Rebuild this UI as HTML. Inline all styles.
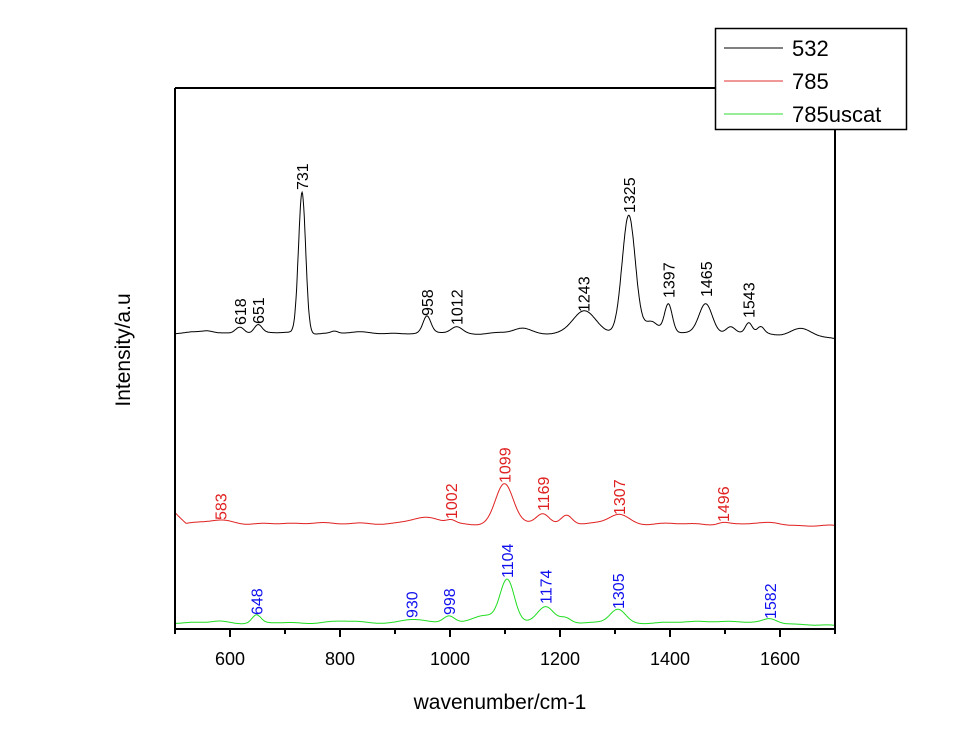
<!DOCTYPE html>
<html><head><meta charset="utf-8"><style>
html,body{margin:0;padding:0;background:#fff;}
svg{display:block;font-family:"Liberation Sans",Arial,sans-serif;}
</style></head><body>
<svg id="s" width="970" height="755" viewBox="0 0 970 755" xmlns="http://www.w3.org/2000/svg">
<rect width="970" height="755" fill="#fff"/>
<path id="pk" fill="none" stroke="#000" stroke-width="1"/>
<path id="pr" fill="none" stroke="#e02020" stroke-width="1"/>
<path id="pg" fill="none" stroke="#20dd20" stroke-width="1"/>
<g fill="none" stroke="#000" stroke-width="2">
<line x1="175" y1="88" x2="716" y2="88"/>
<line x1="175" y1="88" x2="175" y2="629"/>
<line x1="835" y1="129" x2="835" y2="629"/>
<line x1="174" y1="629" x2="836" y2="629"/>
</g>
<g id="ticks" stroke="#000" stroke-width="2"></g>
<g font-size="18" text-anchor="middle" fill="#000">
<text x="230" y="665">600</text><text x="340" y="665">800</text><text x="450" y="665">1000</text>
<text x="560" y="665">1200</text><text x="670" y="665">1400</text><text x="780" y="665">1600</text>
</g>
<text x="500" y="709" font-size="21" text-anchor="middle">wavenumber/cm-1</text>
<text transform="translate(130,350) rotate(-90)" font-size="21" text-anchor="middle">Intensity/a.u</text>
<g id="labels" font-size="16"></g>
<rect x="715.5" y="28.5" width="191" height="101" fill="#fff" stroke="#000" stroke-width="1.5"/>
<line x1="724" y1="48" x2="783" y2="48" stroke="#000"/>
<line x1="724" y1="81" x2="783" y2="81" stroke="#e03030"/>
<line x1="724" y1="114" x2="783" y2="114" stroke="#30dd30"/>
<g font-size="22" fill="#000">
<text x="792" y="56">532</text><text x="792" y="89">785</text><text x="792" y="122">785uscat</text>
</g>
</svg>
<script>
function X(w){return 175+(w-500)*0.55;}
function curve(base,peaks,ws,we){
  var d="";
  for(var w=ws;w<=we;w+=1){
    var y=base(w);
    for(var i=0;i<peaks.length;i++){var p=peaks[i];var t=(w-p[0])/p[2];y-=p[1]*Math.exp(-0.5*t*t);}
    d+=(w==ws?"M":"L")+X(w).toFixed(1)+","+y.toFixed(1);
  }
  return d;
}
var wig=function(w,a){return a*Math.sin(w/23)+a*0.6*Math.sin(w/9.7);};
document.getElementById("pk").setAttribute("d",curve(function(w){return 333+(w>1550?(w-1550)*0.045:0)+wig(w,0.8);},
 [[560,2,10],[618,7,8],[651,8,7],[731,141,6.5],[790,2,6],[958,16,7],[1012,6,10],[1130,4,15],[1243,22,20],[1325,118,12],[1365,12,12],[1397,28,7],[1465,30,12],[1510,6,8],[1543,10,6],[1565,6,6],[1640,9,20]],500,1700));
document.getElementById("pr").setAttribute("d",curve(function(w){return 524+(w<520?-(520-w)*0.6:0)+(w>1550?(w-1550)*0.015:0)+wig(w,0.7);},
 [[583,4,25],[760,2,20],[950,6,30],[1002,3,8],[1099,40,16],[1169,11,12],[1212,9,10],[1307,10,18],[1496,2,10],[1590,2,15]],500,1700));
document.getElementById("pg").setAttribute("d",curve(function(w){return 623+(w>1600?(w-1600)*0.03:0)+wig(w,0.5);},
 [[580,2,15],[648,8,8],[800,2,25],[930,4,20],[998,7,10],[1060,8,20],[1104,43,13],[1174,17,15],[1210,5,10],[1305,14,14],[1480,2,40],[1582,4,12]],500,1700));
var t=document.getElementById("ticks"),h="";
for(var w=500;w<=1700;w+=100){var x=X(w);h+='<line x1="'+x+'" y1="629" x2="'+x+'" y2="'+(w%200==0?637:634)+'"/>';}
t.innerHTML=h;
var L=[[618,325,"618","#000"],[651,324,"651","#000"],[731,190,"731","#000"],[958,316,"958","#000"],[1012,325,"1012","#000"],[1243,312,"1243","#000"],[1325,213,"1325","#000"],[1397,298,"1397","#000"],[1465,297,"1465","#000"],[1543,318,"1543","#000"],
[583,520,"583","#e02020"],[1002,519,"1002","#e02020"],[1099,483,"1099","#e02020"],[1169,511,"1169","#e02020"],[1307,515,"1307","#e02020"],[1496,522,"1496","#e02020"],
[648,615,"648","#1010ee"],[930,618,"930","#1010ee"],[998,615,"998","#1010ee"],[1104,578,"1104","#1010ee"],[1174,604,"1174","#1010ee"],[1305,609,"1305","#1010ee"],[1582,619,"1582","#1010ee"]];
var g="";
for(var i=0;i<L.length;i++){var x=X(L[i][0])+6,y=L[i][1];g+='<text transform="translate('+x+','+y+') rotate(-90)" fill="'+L[i][3]+'">'+L[i][2]+'</text>';}
document.getElementById("labels").innerHTML=g;
</script>
</body></html>
